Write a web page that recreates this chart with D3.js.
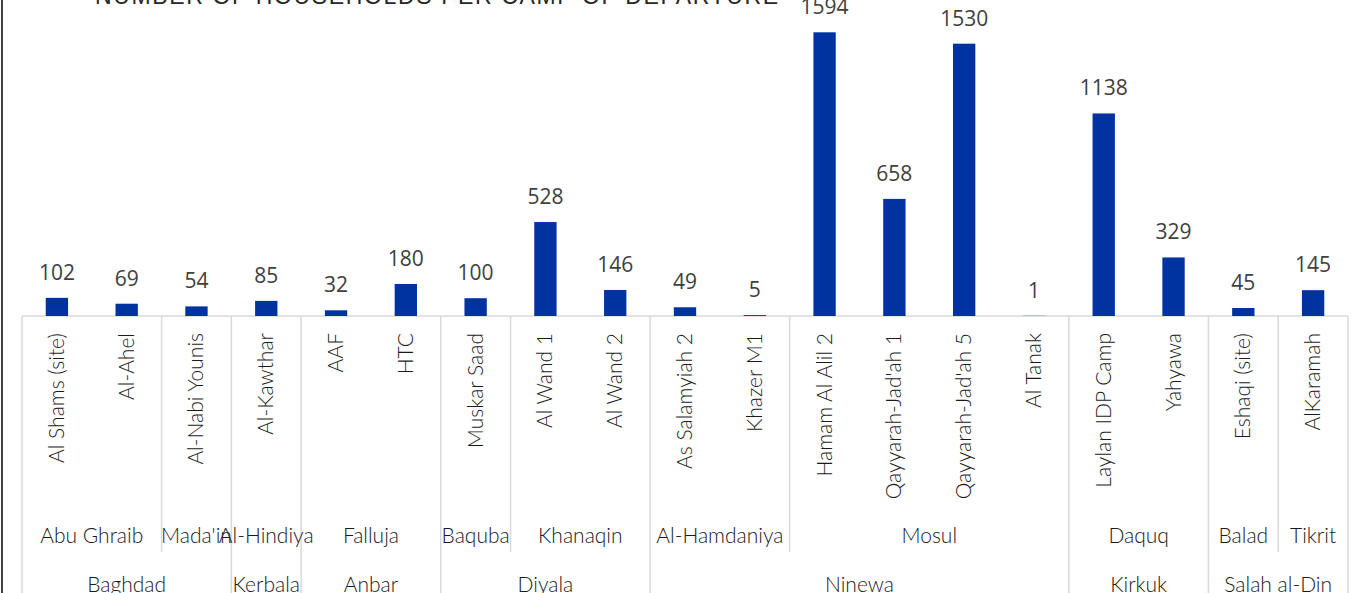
<!DOCTYPE html>
<html>
<head>
<meta charset="utf-8">
<script src="https://cdn.jsdelivr.net/npm/d3@7"></script>
<style>
  html, body { margin: 0; padding: 0; background: #fff; }
  svg { display: block; }
</style>
</head>
<body>
<svg id="chart" width="1360" height="593"></svg>
<script>
// camps of departure, their households and the district / governorate each belongs to
const camps = ["Al Shams (site)", "Al-Ahel", "Al-Nabi Younis", "Al-Kawthar", "AAF", "HTC",
    "Muskar Saad", "Al Wand 1", "Al Wand 2", "As Salamyiah 2", "Khazer M1",
    "Hamam Al Alil 2", "Qayyarah-Jad'ah 1", "Qayyarah-Jad'ah 5", "Al Tanak",
    "Laylan IDP Camp", "Yahyawa", "Eshaqi (site)", "AlKaramah"];
const households = [102, 69, 54, 85, 32, 180, 100, 528, 146, 49, 5, 1594, 658, 1530, 1, 1138, 329, 45, 145];
const districts = ["Abu Ghraib", "Abu Ghraib", "Mada'in", "Al-Hindiya", "Falluja", "Falluja",
    "Baquba", "Khanaqin", "Khanaqin", "Al-Hamdaniya", "Al-Hamdaniya",
    "Mosul", "Mosul", "Mosul", "Mosul", "Daquq", "Daquq", "Balad", "Tikrit"];
const governorates = ["Baghdad", "Baghdad", "Baghdad", "Kerbala", "Anbar", "Anbar",
    "Diyala", "Diyala", "Diyala", "Ninewa", "Ninewa",
    "Ninewa", "Ninewa", "Ninewa", "Ninewa", "Kirkuk", "Kirkuk", "Salah al-Din", "Salah al-Din"];
const title = "NUMBER OF HOUSEHOLDS PER CAMP OF DEPARTURE";

const svg = d3.select('#chart');
const baseY = 316;
const gridColor = "#d9d9d9";
const labelFont = 'Lato, sans-serif';

const x = d3.scaleBand()
    .domain(d3.range(camps.length))
    .range([22, 1348])
    .paddingInner(0.68)
    .paddingOuter(0.34);
const step = x.step();
const edge = i => 22 + i * step;

const y = d3.scaleLinear()
    .domain([0, 1594])
    .range([baseY, 32.3]);

// group consecutive camps that share a label
function spans(labels) {
    const out = [];
    labels.forEach((l, i) => {
        const last = out[out.length - 1];
        if (last && last.label === l) last.end = i + 1;
        else out.push({ label: l, start: i, end: i + 1 });
    });
    return out;
}
const distSpans = spans(districts);
const govSpans = spans(governorates);

// chart frame (left edge only visible)
svg.append('line')
    .attr('x1', 2).attr('x2', 2).attr('y1', 0).attr('y2', 593)
    .attr('stroke', '#404040').attr('stroke-width', 2);

// title (mostly cut off at the top)
svg.append('text')
    .attr('x', 95).attr('y', 4)
    .attr('textLength', 683)
    .attr('lengthAdjust', 'spacing')
    .attr('font-family', 'Liberation Sans, Arial, sans-serif')
    .attr('font-size', 23)
    .attr('fill', '#262626')
    .text(title);

// category axis separators
const govEdges = new Set([0].concat(govSpans.map(s => s.end)));
const distEdges = distSpans.map(s => s.end).filter(e => !govEdges.has(e));

svg.selectAll('line.gov')
    .data(Array.from(govEdges))
    .enter()
    .append('line')
    .attr('class', 'gov')
    .attr('x1', d => edge(d)).attr('x2', d => edge(d))
    .attr('y1', baseY).attr('y2', 593)
    .attr('stroke', gridColor).attr('stroke-width', 1.5);

svg.selectAll('line.dist')
    .data(distEdges)
    .enter()
    .append('line')
    .attr('class', 'dist')
    .attr('x1', d => edge(d)).attr('x2', d => edge(d))
    .attr('y1', baseY).attr('y2', 552)
    .attr('stroke', gridColor).attr('stroke-width', 1.5);

svg.append('line')
    .attr('x1', 22).attr('x2', 1348)
    .attr('y1', baseY).attr('y2', baseY)
    .attr('stroke', gridColor).attr('stroke-width', 1.5);

// bars
svg.selectAll('rect.bar')
    .data(households)
    .enter()
    .append('rect')
    .attr('class', 'bar')
    .attr('x', (d, i) => x(i))
    .attr('width', x.bandwidth())
    .attr('y', d => y(d))
    .attr('height', d => baseY - y(d))
    .attr('fill', '#0033a0');

// value labels
svg.selectAll('text.value')
    .data(households)
    .enter()
    .append('text')
    .attr('class', 'value')
    .attr('x', (d, i) => x(i) + x.bandwidth() / 2)
    .attr('y', d => y(d) - 18)
    .attr('text-anchor', 'middle')
    .attr('font-family', 'Open Sans, sans-serif')
    .attr('font-size', 21)
    .attr('fill', '#404040')
    .text(d => d);

// camp labels, rotated
svg.selectAll('text.camp')
    .data(camps)
    .enter()
    .append('text')
    .attr('class', 'camp')
    .attr('transform', (d, i) => `translate(${x(i) + x.bandwidth() / 2 + 7},333) rotate(-90)`)
    .attr('text-anchor', 'end')
    .attr('font-family', labelFont)
    .attr('font-weight', 300)
    .attr('font-size', 21)
    .attr('fill', '#1a1a1a')
    .text(d => d);

// district labels
svg.selectAll('text.district')
    .data(distSpans)
    .enter()
    .append('text')
    .attr('class', 'district')
    .attr('x', d => (edge(d.start) + edge(d.end)) / 2)
    .attr('y', 543)
    .attr('text-anchor', 'middle')
    .attr('font-family', labelFont)
    .attr('font-weight', 300)
    .attr('font-size', 21)
    .attr('fill', '#1a1a1a')
    .text(d => d.label);

// governorate labels
svg.selectAll('text.gov')
    .data(govSpans)
    .enter()
    .append('text')
    .attr('class', 'gov')
    .attr('x', d => (edge(d.start) + edge(d.end)) / 2)
    .attr('y', 592)
    .attr('text-anchor', 'middle')
    .attr('font-family', labelFont)
    .attr('font-weight', 300)
    .attr('font-size', 21)
    .attr('fill', '#1a1a1a')
    .text(d => d.label);
</script>
</body>
</html>
